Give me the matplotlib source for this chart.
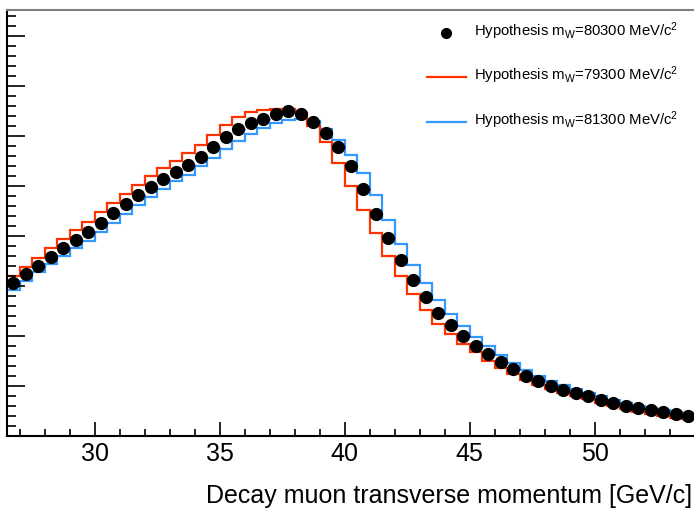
import numpy as np
import matplotlib.pyplot as plt
from matplotlib.lines import Line2D
from matplotlib.ticker import MultipleLocator, NullFormatter

plt.rcParams['font.family'] = 'Liberation Sans'
plt.rcParams['mathtext.fontset'] = 'custom'
plt.rcParams['mathtext.rm'] = 'Liberation Sans'
plt.rcParams['mathtext.it'] = 'Liberation Sans:italic'

# binning of the muon pT histograms [GeV/c]
bin_lo = 26.5
bin_w = 0.5

# counts per bin for the three W mass hypotheses
mw_80300 = [3054, 3234, 3406, 3580, 3754, 3920, 4080, 4254, 4454, 4646,
            4820, 4974, 5134, 5280, 5414, 5586, 5780, 5974, 6140, 6254,
            6340, 6434, 6494, 6440, 6286, 6066, 5774, 5400, 4934, 4440,
            3954, 3514, 3120, 2774, 2470, 2220, 2000, 1800, 1634, 1486,
            1334, 1206, 1100, 1006, 930, 860, 794, 726, 660, 600,
            554, 514, 474, 434, 400]
mw_79300 = [3200, 3380, 3566, 3754, 3940, 4120, 4286, 4474, 4666, 4850,
            5030, 5200, 5360, 5510, 5660, 5830, 6030, 6220, 6380, 6490,
            6530, 6550, 6550, 6460, 6200, 5880, 5454, 5000, 4520, 4054,
            3600, 3200, 2840, 2520, 2240, 2034, 1840, 1674, 1500, 1354,
            1234, 1120, 1020, 934, 854, 800, 740, 670, 600, 540,
            490, 450, 410, 370, 340]
mw_81300 = [2930, 3110, 3280, 3440, 3610, 3760, 3910, 4090, 4270, 4450,
            4620, 4790, 4950, 5100, 5230, 5400, 5560, 5750, 5910, 6050,
            6170, 6270, 6330, 6350, 6300, 6150, 5920, 5620, 5260, 4820,
            4320, 3850, 3430, 3060, 2730, 2440, 2200, 1990, 1800, 1620,
            1470, 1320, 1200, 1100, 1020, 940, 870, 800, 730, 670,
            610, 560, 520, 480, 440]

labels = ["Hypothesis m$_\\mathrm{W}$=80300 MeV/c$^{2}$",
          "Hypothesis m$_\\mathrm{W}$=79300 MeV/c$^{2}$",
          "Hypothesis m$_\\mathrm{W}$=81300 MeV/c$^{2}$"]

edges = bin_lo + bin_w * np.arange(len(mw_80300) + 1)
centers = edges[:-1] + bin_w / 2

red = '#ff3300'
blue = '#3399ff'

W, H = 694, 508
fig = plt.figure(figsize=(W / 100, H / 100), dpi=100)
ax = fig.add_axes([7 / W, 72 / H, 687.5 / W, 426 / H])

ax.stairs(mw_81300, edges, baseline=None, color=blue, lw=1.6)
ax.stairs(mw_79300, edges, baseline=None, color=red, lw=1.6)
ax.errorbar(centers, mw_80300, xerr=bin_w / 2, fmt='o', color='black', ms=8.5,
            ecolor='#000080', elinewidth=1, capsize=0, zorder=3)

ax.set_xlim(26.5, 54)
ax.set_ylim(0, 8520)

ax.xaxis.set_major_locator(MultipleLocator(5))
ax.xaxis.set_minor_locator(MultipleLocator(1))
ax.yaxis.set_major_locator(MultipleLocator(1000))
ax.yaxis.set_minor_locator(MultipleLocator(200))
ax.yaxis.set_major_formatter(NullFormatter())
ax.tick_params(which='both', direction='in', top=False, right=False, width=1.2)
ax.tick_params(axis='x', which='major', length=10, labelsize=18, pad=4)
ax.tick_params(axis='x', which='minor', length=5)
ax.tick_params(axis='y', which='major', length=12.7)
ax.tick_params(axis='y', which='minor', length=6.3)

ax.spines['right'].set_visible(False)
ax.spines['top'].set_color('#7f7f7f')
ax.spines['top'].set_linewidth(1.5)
ax.spines['left'].set_linewidth(1.5)
ax.spines['bottom'].set_linewidth(1.5)

fig.text(692 / W, 1 - 503 / H, "Decay muon transverse momentum [GeV/c]",
         ha='right', va='baseline', fontsize=18)

# legend, no frame
rows = [36, 80, 125]
fig.add_artist(Line2D([446 / W], [1 - 33 / H], marker='o', color='black',
                      ms=7, ls='none'))
fig.add_artist(Line2D([427 / W, 466 / W], [1 - 77 / H] * 2, color=red, lw=1.6))
fig.add_artist(Line2D([427 / W, 466 / W], [1 - 122 / H] * 2, color=blue, lw=1.6))
for lab, yb in zip(labels, rows):
    fig.text(474 / W, 1 - yb / H, lab, ha='left', va='baseline', fontsize=10.7)

fig.savefig('out.png', dpi=100)
